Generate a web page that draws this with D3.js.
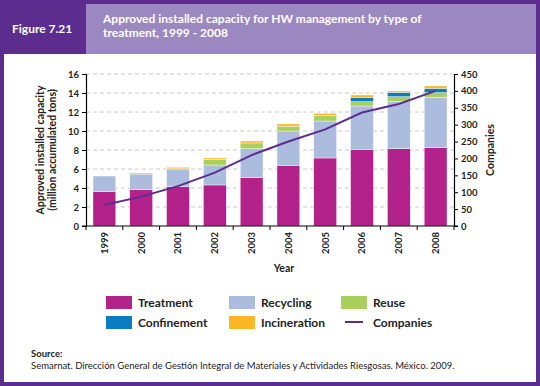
<!DOCTYPE html>
<html>
<head>
<meta charset="utf-8">
<script src="https://cdn.jsdelivr.net/npm/d3@7"></script>
<style>
  body { margin: 0; background: #fff; }
  svg { display: block; font-family: Lato, "Open Sans", sans-serif; }
</style>
</head>
<body>
<div id="chart"></div>
<script>
// data
var years = ["1999","2000","2001","2002","2003","2004","2005","2006","2007","2008"];
var treatment    = [3.60, 3.82, 4.14, 4.32, 5.09, 6.39, 7.16, 8.07, 8.14, 8.25];
var recycling    = [1.66, 1.65, 1.86, 2.10, 3.05, 3.61, 3.89, 4.56, 4.98, 5.29];
var reuse        = [0.00, 0.00, 0.02, 0.58, 0.60, 0.49, 0.60, 0.46, 0.49, 0.50];
var confinement  = [0.00, 0.00, 0.00, 0.00, 0.00, 0.00, 0.00, 0.45, 0.46, 0.45];
var incineration = [0.00, 0.11, 0.16, 0.16, 0.21, 0.25, 0.21, 0.25, 0.14, 0.25];
var companies    = [62, 87, 118, 158, 210, 250, 286, 336, 361, 400];
var yTicks = [0, 2, 4, 6, 8, 10, 12, 14, 16];
var y2Ticks = [0, 50, 100, 150, 200, 250, 300, 350, 400, 450];

var series = [
  {key: "Treatment", values: treatment, color: "#b3228b"},
  {key: "Recycling", values: recycling, color: "#abbcde"},
  {key: "Reuse", values: reuse, color: "#a9cf5c"},
  {key: "Confinement", values: confinement, color: "#0b7bc2"},
  {key: "Incineration", values: incineration, color: "#fbb725"}
];

var W = 540, H = 386,
    purple = "#5c2d8f", lilac = "#9c88c0";
var svg = d3.select("#chart").append("svg")
    .attr("width", W).attr("height", H);

// frame + header
svg.append("rect").attr("width", W).attr("height", H).attr("fill", purple);
svg.append("rect").attr("x", 4).attr("y", 54).attr("width", W - 8).attr("height", H - 58).attr("fill", "#fff");
svg.append("rect").attr("x", 86).attr("y", 4).attr("width", 450).attr("height", 50).attr("fill", lilac);
svg.append("text").attr("x", 12).attr("y", 33).attr("fill", "#fff")
  .attr("font-size", 12).attr("font-weight", 700).text("Figure 7.21");
svg.append("text").attr("x", 103).attr("y", 23).attr("fill", "#fff")
  .attr("font-size", 12).attr("font-weight", 700)
  .text("Approved installed capacity for HW management by type of");
svg.append("text").attr("x", 103).attr("y", 37).attr("fill", "#fff")
  .attr("font-size", 12).attr("font-weight", 700)
  .text("treatment, 1999 - 2008");

var margin = {left: 86, right: 86, top: 74, bottom: 160},
    width = 454 - 86, height = 226 - 74;
var g = svg.append("g").attr("transform", "translate(" + margin.left + "," + margin.top + ")");

var x = d3.scaleBand().domain(years).range([0, width]).paddingInner(0.38).paddingOuter(0.19);
var y = d3.scaleLinear().domain([0, 16]).range([height, 0]);
var y2 = d3.scaleLinear().domain([0, 450]).range([height, 0]);

// grid
g.append("g").selectAll("line").data(yTicks.slice(1)).enter().append("line")
  .attr("x1", 0).attr("x2", width)
  .attr("y1", function(d){ return y(d); }).attr("y2", function(d){ return y(d); })
  .attr("stroke", "#c8c8c8").attr("stroke-dasharray", "4,3");

// stacked bars
var rows = years.map(function(yr, i) {
  var r = {year: yr};
  series.forEach(function(s){ r[s.key] = s.values[i]; });
  return r;
});
var stack = d3.stack().keys(series.map(function(s){ return s.key; }))(rows);
g.append("g").selectAll("g").data(stack).enter().append("g")
  .attr("fill", function(d, i){ return series[i].color; })
  .selectAll("rect").data(function(d){ return d; }).enter().append("rect")
  .attr("x", function(d){ return x(d.data.year); })
  .attr("width", x.bandwidth())
  .attr("y", function(d){ return y(d[1]); })
  .attr("height", function(d){ return Math.max(0, y(d[0]) - y(d[1])); })
  .attr("stroke", "#fff").attr("stroke-width", 0.4);

// companies line
var line = d3.line()
  .x(function(d, i){ return x(years[i]) + x.bandwidth() / 2; })
  .y(function(d){ return y2(d); });
g.append("path").datum(companies).attr("d", line)
  .attr("fill", "none").attr("stroke", purple).attr("stroke-width", 2);

// axes
var left = g.append("g").call(d3.axisLeft(y).tickValues(yTicks).tickSize(4).tickPadding(3));
var right = g.append("g").attr("transform", "translate(" + width + ",0)")
  .call(d3.axisRight(y2).tickValues(y2Ticks).tickSize(4).tickPadding(3));
var bottom = g.append("g").attr("transform", "translate(0," + height + ")")
  .call(d3.axisBottom(x).tickSize(0).tickPadding(6));
// ticks between bars
bottom.selectAll(".sep").data(d3.range(years.length + 1)).enter().append("line")
  .attr("x1", function(i){ return i * x.step(); }).attr("x2", function(i){ return i * x.step(); })
  .attr("y1", 0).attr("y2", 4).attr("stroke", "#000");
bottom.select(".domain").attr("d", "M-4,0H" + (width + 4));
bottom.selectAll(".tick text")
  .attr("transform", "rotate(-90)").attr("text-anchor", "end")
  .attr("x", -6).attr("y", 0).attr("dy", "0.35em");

[left, right, bottom].forEach(function(a){
  a.selectAll("text").attr("font-size", 9.5).attr("font-weight", 700).attr("fill", "#222")
    .attr("font-family", "Lato, sans-serif");
  a.select(".domain").attr("stroke", "#000").attr("stroke-width", 1.2);
});

// axis titles
svg.append("text").attr("transform", "translate(44,150) rotate(-90)")
  .attr("text-anchor", "middle").attr("font-size", 10.5).attr("font-weight", 700).attr("fill", "#222")
  .text("Approved installed capacity");
svg.append("text").attr("transform", "translate(56,150) rotate(-90)")
  .attr("text-anchor", "middle").attr("font-size", 10.5).attr("font-weight", 700).attr("fill", "#222")
  .text("(million accumulated tons)");
svg.append("text").attr("transform", "translate(494,150) rotate(-90)")
  .attr("text-anchor", "middle").attr("font-size", 10.5).attr("font-weight", 700).attr("fill", "#222")
  .text("Companies");
svg.append("text").attr("x", 284).attr("y", 272)
  .attr("text-anchor", "middle").attr("font-size", 10.5).attr("font-weight", 700).attr("fill", "#222")
  .text("Year");

// legend
var legendItems = [
  {key: "Treatment", col: 0, row: 0},
  {key: "Recycling", col: 1, row: 0},
  {key: "Reuse", col: 2, row: 0},
  {key: "Confinement", col: 0, row: 1},
  {key: "Incineration", col: 1, row: 1},
  {key: "Companies", col: 2, row: 1}
];
var colX = [106, 229, 341];
var leg = svg.append("g").selectAll("g").data(legendItems).enter().append("g")
  .attr("transform", function(d){ return "translate(" + colX[d.col] + "," + (296 + d.row * 20) + ")"; });
leg.each(function(d){
  var el = d3.select(this);
  var s = series.find(function(s){ return s.key === d.key; });
  if (s) {
    el.append("rect").attr("width", 26).attr("height", 13).attr("fill", s.color);
  } else {
    el.append("line").attr("x1", 4).attr("x2", 22).attr("y1", 6).attr("y2", 6)
      .attr("stroke", purple).attr("stroke-width", 2);
  }
  el.append("text").attr("x", 32).attr("y", 11)
    .attr("font-size", 12).attr("font-weight", 700).attr("fill", "#222").text(d.key);
});

// source
svg.append("text").attr("x", 31).attr("y", 357).attr("font-size", 9.5).attr("font-weight", 700)
  .attr("fill", "#222").text("Source:");
svg.append("text").attr("x", 31).attr("y", 369).attr("font-size", 9.5)
  .attr("fill", "#222")
  .text("Semarnat. Dirección General de Gestión Integral de Materiales y Actividades Riesgosas. México. 2009.");
</script>
</body>
</html>
